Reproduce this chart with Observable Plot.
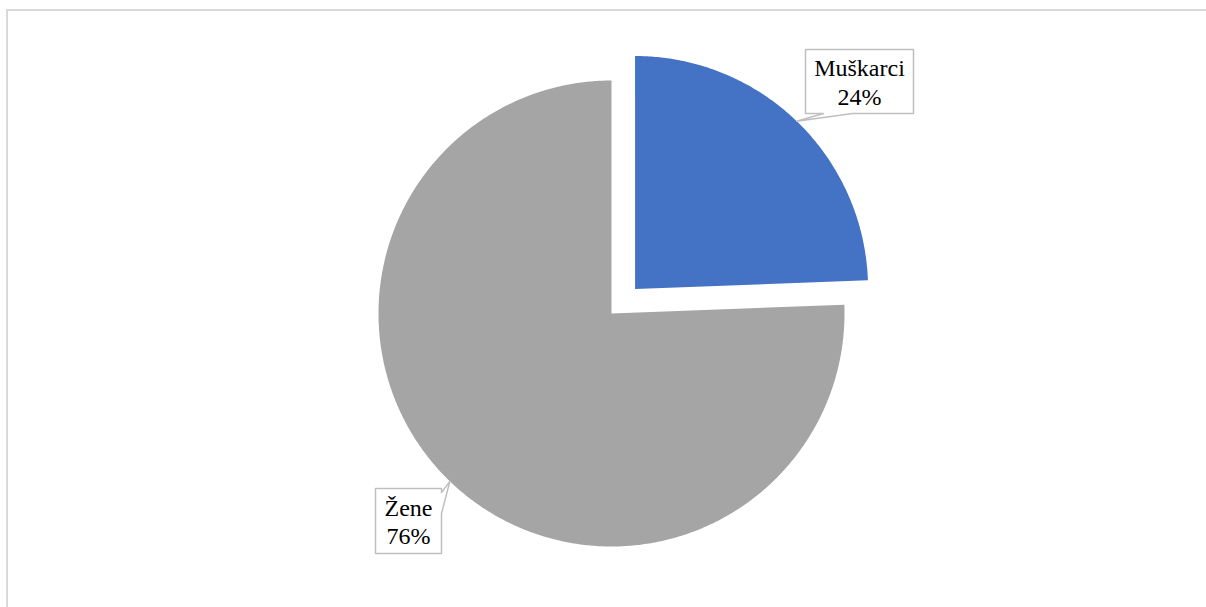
<!DOCTYPE html>
<html>
<head>
<meta charset="utf-8">
<script src="https://cdn.jsdelivr.net/npm/d3@7"></script>
<script src="https://cdn.jsdelivr.net/npm/@observablehq/plot@0.6"></script>
<style>
  html, body { margin: 0; padding: 0; background: #fff; }
  #wrap { position: relative; width: 1206px; height: 607px; overflow: hidden; }
  #frame { position: absolute; left: 6px; top: 9px; width: 1220px; height: 620px;
           border-left: 2px solid #d9d9d9; border-top: 2px solid #d9d9d9; box-sizing: border-box; }
  #chart { position: absolute; left: 0; top: 0; }
  #chart svg text { font-family: "Liberation Serif", "Times New Roman", serif !important; }
</style>
</head>
<body>
<div id="wrap"><div id="frame"></div><div id="chart"></div></div>
<script>
// ---- data ----
const categories = ["Muškarci", "Žene"];
const values = [24.4, 75.6];
const colors = ["#4472C4", "#A5A5A5"];

// ---- layout ----
const W = 1206, H = 607;
const CX = 611, CY = 313, R = 233;        // pie centre & radius in pixels
const toX = px => (px - CX) / R, toY = py => (CY - py) / R;
const explodeDist = 34 / R;

const pie = d3.pie().sort(null).value(d => d.value).startAngle(0).endAngle(2 * Math.PI);
const arcs = pie(categories.map((c, i) => ({cat: c, value: values[i], color: colors[i]})));

const slicePts = [];
const info = [];
arcs.forEach((a, i) => {
  const mid = (a.startAngle + a.endAngle) / 2;
  const off = i === 0 ? explodeDist : 0;
  const ox = off * Math.sin(mid), oy = off * Math.cos(mid);
  const pts = [{x: ox, y: oy}];
  const n = Math.max(2, Math.ceil((a.endAngle - a.startAngle) / (Math.PI / 360)));
  for (let k = 0; k <= n; k++) {
    const t = a.startAngle + (a.endAngle - a.startAngle) * k / n;
    pts.push({x: ox + Math.sin(t), y: oy + Math.cos(t)});
  }
  pts.push({x: ox, y: oy});
  pts.forEach(p => slicePts.push({...p, cat: a.data.cat, color: a.data.color}));
  info.push({cat: a.data.cat, value: a.data.value, tip: {x: ox + Math.sin(mid), y: oy + Math.cos(mid)}});
});

// label callouts (box in pixels, pointer inserted on one edge)
const boxes = [
  {x1: 805, y1: 49, x2: 913, y2: 113, side: "bottom", b1: 823, b2: 852},
  {x1: 375, y1: 488, x2: 441, y2: 553, side: "right", b1: 492, b2: 513}
];
const callPts = [];
const labels = [];
boxes.forEach((b, i) => {
  const tip = info[i].tip;
  let poly;
  if (b.side === "bottom") {
    poly = [[b.x1, b.y1], [b.x2, b.y1], [b.x2, b.y2], [b.b2, b.y2], null, [b.b1, b.y2], [b.x1, b.y2], [b.x1, b.y1]];
  } else {
    poly = [[b.x1, b.y1], [b.x2, b.y1], [b.x2, b.b1], null, [b.x2, b.b2], [b.x2, b.y2], [b.x1, b.y2], [b.x1, b.y1]];
  }
  poly.forEach(p => {
    if (p === null) callPts.push({x: tip.x, y: tip.y, cat: info[i].cat});
    else callPts.push({x: toX(p[0]), y: toY(p[1]), cat: info[i].cat});
  });
  labels.push({x: toX((b.x1 + b.x2) / 2), y: toY((b.y1 + b.y2) / 2),
               text: `${info[i].cat}\n${Math.round(info[i].value)}%`});
});

const chart = Plot.plot({
  width: W, height: H,
  marginTop: 0, marginRight: 0, marginBottom: 0, marginLeft: 0,
  x: {domain: [toX(0), toX(W)], range: [0, W], axis: null},
  y: {domain: [toY(H), toY(0)], range: [H, 0], axis: null},
  style: {background: "transparent", overflow: "visible", fontFamily: "Liberation Serif, serif"},
  marks: [
    Plot.line(slicePts, {x: "x", y: "y", z: "cat", fill: "color", stroke: "none", curve: "linear"}),
    Plot.line(callPts, {x: "x", y: "y", z: "cat", fill: "white", stroke: "#bfbfbf", strokeWidth: 1.5, curve: "linear"}),
    Plot.text(labels, {x: "x", y: "y", text: "text", fontSize: 24, fill: "#000",
                       fontFamily: "Liberation Serif", lineHeight: 1.18})
  ]
});
document.getElementById("chart").appendChild(chart);
</script>
</body>
</html>
